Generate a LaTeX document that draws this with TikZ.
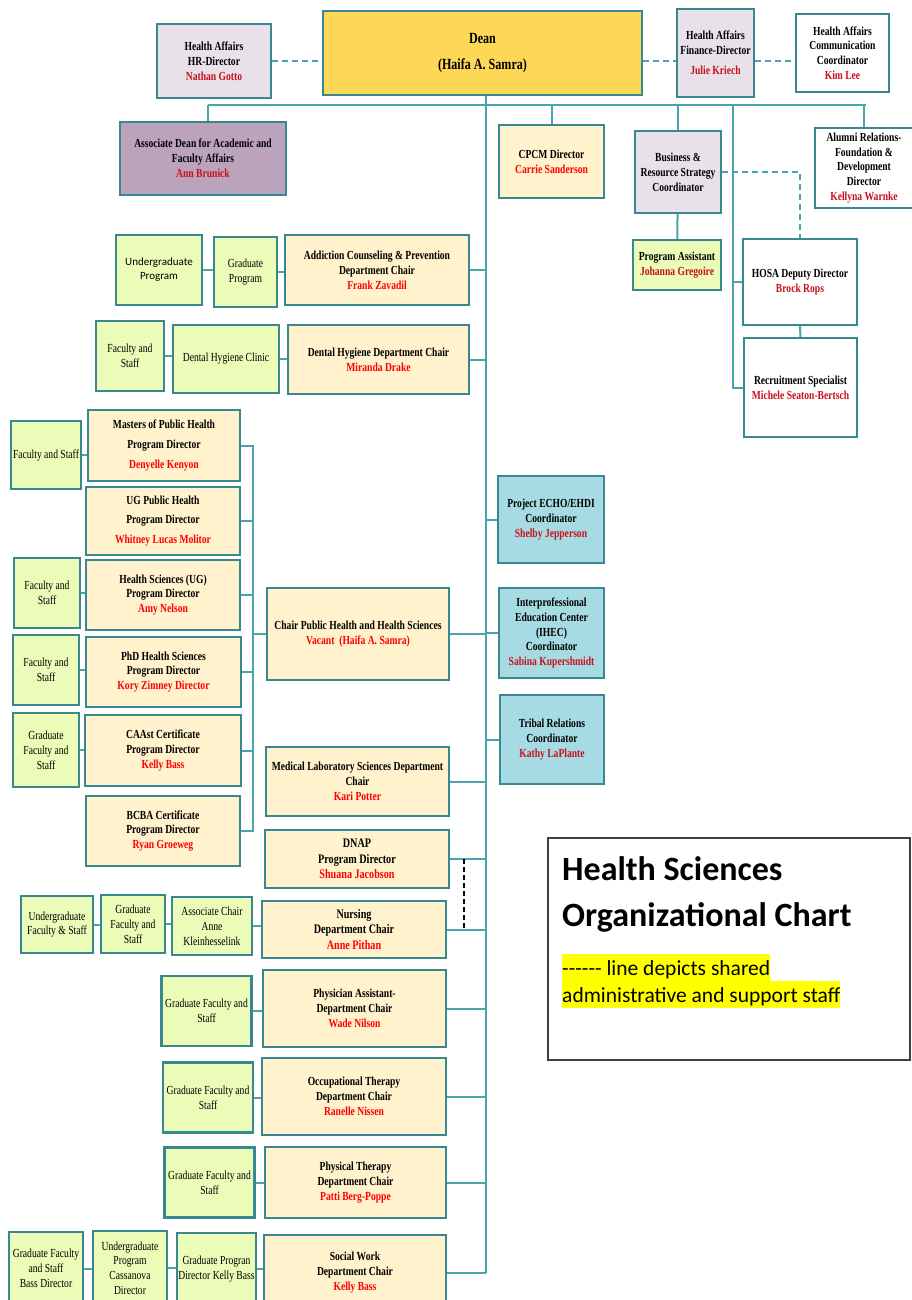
\documentclass[tikz,border=0pt]{standalone}
\usepackage{fontspec}
\setmainfont{Liberation Serif}[FakeStretch=0.78]
\newfontfamily\carlito{Carlito}
\usetikzlibrary{positioning}

\definecolor{boxline}{RGB}{56,135,145}
\definecolor{linkteal}{RGB}{74,163,174}
\definecolor{deanyellow}{RGB}{253,216,86}
\definecolor{lavender}{RGB}{232,225,234}
\definecolor{mauve}{RGB}{187,163,187}
\definecolor{cream}{RGB}{255,242,204}
\definecolor{limegreen}{RGB}{235,252,184}
\definecolor{tealblue}{RGB}{167,219,227}
\definecolor{deptred}{RGB}{255,0,0}
\definecolor{darkred}{RGB}{200,16,30}
\definecolor{marker}{RGB}{255,255,0}

\newcommand{\unitfont}{\bfseries\fontsize{12.3}{14.8}\selectfont}
\newcommand{\staffont}{\fontsize{12.3}{14.8}\selectfont}
\newcommand{\redname}[1]{\textcolor{deptred}{#1}}
\newcommand{\darkname}[1]{\textcolor{darkred}{#1}}

\tikzstyle{unit} = [draw=boxline, line width=2.4pt, inner sep=1pt, align=center, font=\unitfont]
\tikzstyle{dean unit} = [unit, fill=deanyellow, font=\bfseries\fontsize{15.5}{18}\selectfont]
\tikzstyle{admin unit} = [unit, fill=lavender]
\tikzstyle{assoc unit} = [unit, fill=mauve]
\tikzstyle{office unit} = [unit, fill=white]
\tikzstyle{dept unit} = [unit, fill=cream]
\tikzstyle{liaison unit} = [unit, fill=tealblue]
\tikzstyle{staff unit} = [unit, fill=limegreen, font=\staffont]
\tikzstyle{link} = [draw, line width=2pt, linkteal]
\tikzstyle{shared link} = [link, dash pattern=on 6pt off 4pt]
\tikzstyle{support link} = [draw, line width=1.1pt, black, dash pattern=on 5pt off 3pt]
\tikzstyle{marked} = [anchor=base west, fill=marker, inner xsep=0pt, inner ysep=0pt, text height=21pt, text depth=6pt, font=\carlito\fontsize{21.5}{26}\selectfont]
\tikzset{wh/.style 2 args={minimum width=#1pt, minimum height=#2pt}}

\begin{document}
\begin{tikzpicture}[x=1pt, y=-1pt]
    \useasboundingbox (0,0) rectangle (911,1300);
    % Top row
    \node[dean unit, wh={319}{84}] (dean) at (482.5,53) {Dean\\[8pt](Haifa A. Samra)};
    \node[admin unit, wh={114}{74}] (hrdir) at (214,61) {Health Affairs\\HR-Director\\\darkname{Nathan Gotto}};
    \node[admin unit, wh={77}{88}] (finance) at (715.5,53) {Health Affairs\\Finance-Director\\[5pt]\darkname{Julie Kriech}};
    \node[office unit, wh={93}{78}] (comm) at (842.5,53) {Health Affairs\\Communication\\Coordinator\\\darkname{Kim Lee}};
    % Second row
    \node[assoc unit, wh={166}{73}] (assocdean) at (203,158.5) {Associate Dean for Academic and\\Faculty Affairs\\\darkname{Ann Brunick}};
    \node[dept unit, wh={105}{73}] (cpcm) at (551.5,161.5) {CPCM Director\\\redname{Carrie Sanderson}};
    \node[admin unit, wh={86}{82}] (business) at (678,172) {Business \&\\Resource Strategy\\Coordinator};
    \node[office unit, wh={98}{80}] (alumni) at (864,168) {Alumni Relations-\\Foundation \&\\Development\\Director\\\darkname{Kellyna Warnke}};
    \node[staff unit, wh={88}{50}, font=\unitfont] (progassist) at (677,265) {Program Assistant\\\darkname{Johanna Gregoire}};
    \node[office unit, wh={114}{86}] (hosa) at (800,282) {HOSA Deputy Director\\\darkname{Brock Rops}};
    \node[office unit, wh={113}{99}] (recruit) at (800.5,387.5) {Recruitment Specialist\\\darkname{Michele Seaton-Bertsch}};
    % Departments on the left of the trunk
    \node[dept unit, wh={184}{70}] (addiction) at (377,270) {Addiction Counseling \& Prevention\\Department Chair\\\redname{Frank Zavadil}};
    \node[staff unit, wh={63}{70}] (gradprog) at (245.5,272) {Graduate\\Program};
    \node[staff unit, wh={86}{70}, font=\carlito\fontsize{11}{14}\selectfont] (ugprog) at (159,270) {Undergraduate\\Program};
    \node[dept unit, wh={181}{69}] (dental) at (378.5,359.5) {Dental Hygiene Department Chair\\\redname{Miranda Drake}};
    \node[staff unit, wh={106}{68}] (dhclinic) at (226,359) {Dental Hygiene Clinic};
    \node[staff unit, wh={68}{70}] (dhstaff) at (130,356) {Faculty and\\Staff};
    % Public health programs
    \node[dept unit, wh={152}{71}] (mph) at (164,445.5) {Masters of Public Health\\[5pt]Program Director\\[5pt]\redname{Denyelle Kenyon}};
    \node[staff unit, wh={70}{68}] (mphstaff) at (46,455) {Faculty and Staff};
    \node[dept unit, wh={154}{68}] (ugph) at (163,521) {UG Public Health\\[5pt]Program Director\\[5pt]\redname{Whitney Lucas Molitor}};
    \node[dept unit, wh={154}{70}] (hsug) at (163,595) {Health Sciences (UG)\\Program Director\\\redname{Amy Nelson}};
    \node[staff unit, wh={66}{70}] (hsugstaff) at (47,593) {Faculty and\\Staff};
    \node[dept unit, wh={155}{70}] (phd) at (163.5,672) {PhD Health Sciences\\Program Director\\\redname{Kory Zimney Director}};
    \node[staff unit, wh={66}{70}] (phdstaff) at (46,670) {Faculty and\\Staff};
    \node[dept unit, wh={156}{71}] (caast) at (163,750.5) {CAAst Certificate\\Program Director\\\redname{Kelly Bass}};
    \node[staff unit, wh={66}{74}] (caaststaff) at (46,750) {Graduate\\Faculty and\\Staff};
    \node[dept unit, wh={154}{70}] (bcba) at (163,831) {BCBA Certificate\\Program Director\\\redname{Ryan Groeweg}};
    \node[dept unit, wh={182}{92}] (chairph) at (358,634) {Chair Public Health and Health Sciences\\\redname{Vacant\ \ (Haifa A. Samra)}};
    % Coordinators on the right of the trunk
    \node[liaison unit, wh={106}{87}] (echo) at (551,519.5) {Project ECHO/EHDI\\Coordinator\\\darkname{Shelby Jepperson}};
    \node[liaison unit, wh={105}{90}] (ihec) at (551.5,633) {Interprofessional\\Education Center\\(IHEC)\\Coordinator\\\darkname{Sabina Kupershmidt}};
    \node[liaison unit, wh={104}{89}] (tribal) at (552,739.5) {Tribal Relations\\Coordinator\\\darkname{Kathy LaPlante}};
    % Lower departments
    \node[dept unit, wh={183}{69}] (medlab) at (357.5,781.5) {Medical Laboratory Sciences Department\\Chair\\\redname{Kari Potter}};
    \node[dept unit, wh={184}{58}, font=\bfseries\fontsize{13}{15.5}\selectfont] (dnap) at (357,859) {DNAP\\Program Director\\\redname{Shuana Jacobson}};
    \node[dept unit, wh={184}{57}, font=\bfseries\fontsize{13}{15.5}\selectfont] (nursing) at (354,929.5) {Nursing\\Department Chair\\\redname{Anne Pithan}};
    \node[staff unit, wh={80}{58}] (nursassoc) at (212,926) {Associate Chair\\Anne\\Kleinhesselink};
    \node[staff unit, wh={64}{58}] (nursgrad) at (133,924) {Graduate\\Faculty and\\Staff};
    \node[staff unit, wh={72}{57}] (nursug) at (57,924.5) {Undergraduate\\Faculty \& Staff};
    \node[dept unit, wh={183}{77}] (pa) at (354.5,1008.5) {Physician Assistant-\\Department Chair\\\redname{Wade Nilson}};
    \node[dept unit, wh={184}{77}] (ot) at (354,1096.5) {Occupational Therapy\\Department Chair\\\redname{Ranelle Nissen}};
    \node[dept unit, wh={181}{71}] (pt) at (355.5,1182.5) {Physical Therapy\\Department Chair\\\redname{Patti Berg-Poppe}};
    \foreach \pos/\name in {{(206.5,1011)/pastaff},{(208,1097.5)/otstaff},{(209.5,1182.5)/ptstaff}}
    \node[staff unit, wh={90}{70}] (\name) at \pos {Graduate Faculty and\\Staff};
    \node[dept unit, wh={182}{75}] (socwork) at (355,1272.5) {Social Work\\Department Chair\\\redname{Kelly Bass}};
    \node[staff unit, wh={79}{72}] (swgrad) at (216.5,1269) {Graduate Progran\\Director Kelly Bass};
    \node[staff unit, wh={74}{74}] (swug) at (130,1268) {Undergraduate\\Program\\Cassanova\\Director};
    \node[staff unit, wh={74}{73}] (swstaff) at (46,1268.5) {Graduate Faculty\\and Staff\\Bass Director};
    % Legend
    \node[draw=black!75, line width=1.2pt, wh={362}{222}] (legend) at (729,949) {};
    \node[anchor=base west, inner sep=0pt, font=\carlito\bfseries\fontsize{34}{40}\selectfont] (legtitle) at (562,880) {Health Sciences};
    \node[anchor=base west, inner sep=0pt, font=\carlito\bfseries\fontsize{34}{40}\selectfont] (legchart) at (562,926) {Organizational Chart};
    \node[marked] (legline) at (562,975) {------ line depicts shared};
    \node[marked] (legstaff) at (562,1002) {administrative and support staff};
    % Connect the units
    \coordinate (busleft) at (208,105);
    \coordinate (busright) at (866,105);
    \coordinate (trunkend) at (486,1272.5);
    \coordinate (sidetrunk) at (733,105);
    \coordinate (phbus) at (253,450);
    \coordinate (dnaptap) at (464,870);
    \path[link] (busleft) -- (busright);
    \path[link] (dean.south -| trunkend) -- (trunkend);
    \path[link] (busleft) -- (assocdean.north -| busleft);
    \foreach \unit in {cpcm, business, alumni}
    \path[link] (\unit.north) -- (\unit.north |- busleft);
    \path[link] (sidetrunk) |- (recruit.west);
    \path[link] (hosa.west) -- (hosa.west -| sidetrunk);
    \path[link] (business) -- (progassist);
    \path[link] (hosa) -- (recruit);
    \path[shared link] (hrdir.east) -- (hrdir.east -| dean.west);
    \path[shared link] (dean.east |- hrdir.east) -- (finance.west |- hrdir.east);
    \path[shared link] (finance.east |- hrdir.east) -- (comm.west |- hrdir.east);
    \path[shared link] (business.east) -| (hosa.north);
    \foreach \unit in {addiction, dental, chairph, medlab, dnap, nursing, pa, ot, pt, socwork}
    \path[link] (\unit.east) -- (\unit.east -| trunkend);
    \foreach \unit in {echo, ihec, tribal}
    \path[link] (\unit.west) -- (\unit.west -| trunkend);
    \foreach \source/ \dest in {
        ugprog/gradprog, gradprog/addiction, dhstaff/dhclinic, dhclinic/dental,
        mphstaff/mph, hsugstaff/hsug, phdstaff/phd, caaststaff/caast,
        nursug/nursgrad, nursgrad/nursassoc, nursassoc/nursing,
        pastaff/pa, otstaff/ot, ptstaff/pt,
        swstaff/swug, swug/swgrad, swgrad/socwork}
    \path[link] (\source.east) -- (\source.east -| \dest.west);
    \path[link] (mph.east) -- (mph.east -| phbus) |- (bcba.east);
    \foreach \unit in {ugph, hsug, phd, caast}
    \path[link] (\unit.east) -- (\unit.east -| phbus);
    \path[link] (chairph.west) -- (chairph.west -| phbus);
    \path[support link] (dnap.east -| dnaptap) -- (nursing.east -| dnaptap);
\end{tikzpicture}
\end{document}
